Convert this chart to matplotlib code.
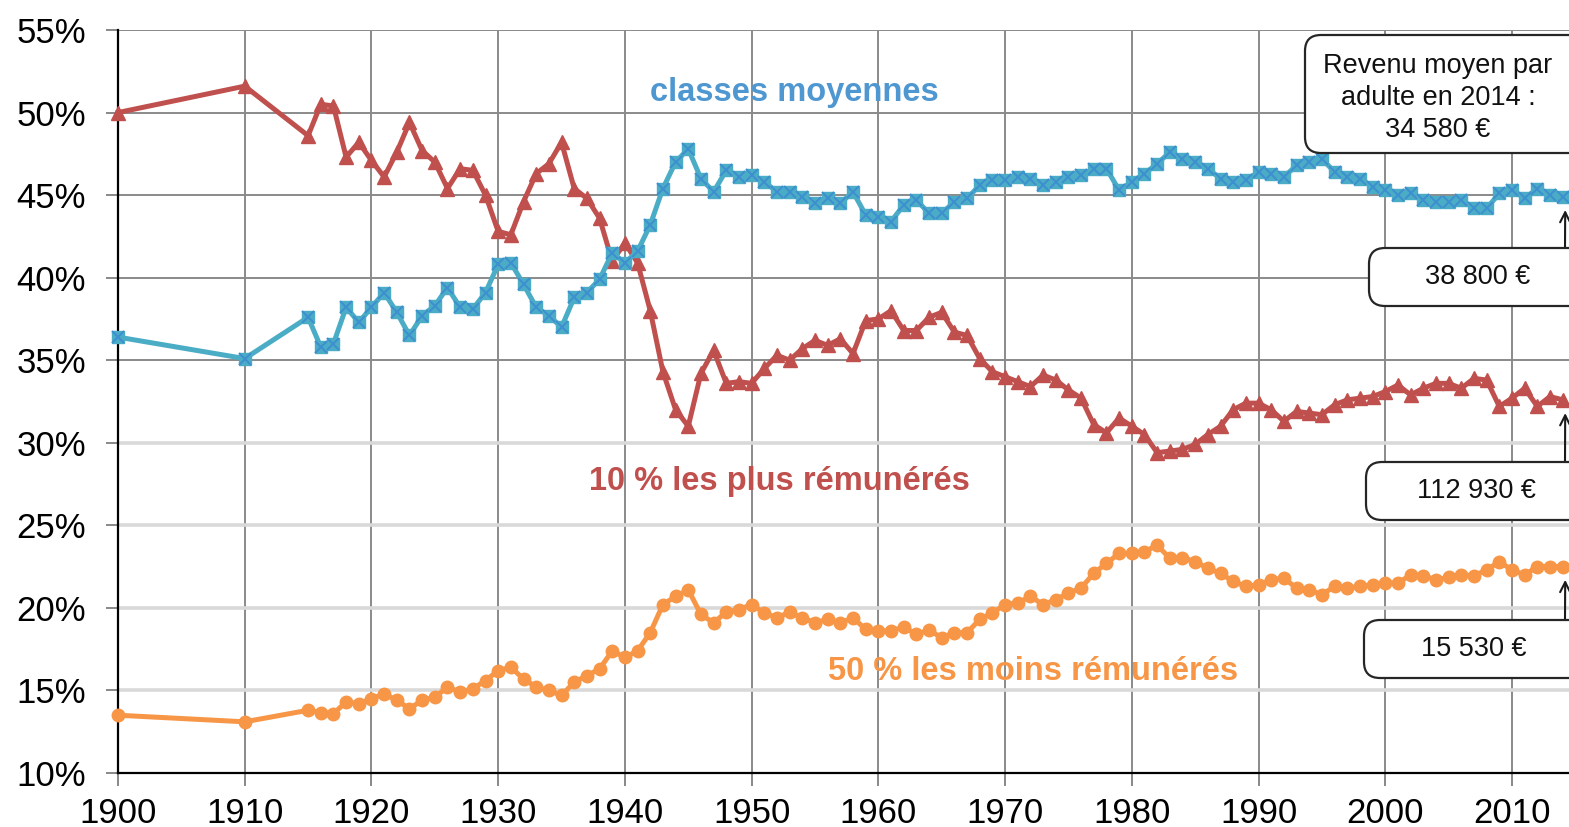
import matplotlib
matplotlib.use("Agg")
import matplotlib.pyplot as plt
from matplotlib.patches import FancyBboxPatch

plt.rcParams["font.family"] = ["Liberation Sans", "DejaVu Sans"]

W, H = 1569, 827

years = [1900, 1910] + list(range(1915, 2015))

# part du revenu (%) — 10 % les plus rémunérés
top10 = [50.0, 51.6,
         48.6, 50.5, 50.4, 47.3, 48.2,
         47.1, 46.1, 47.6, 49.4, 47.7, 47.0, 45.4, 46.6, 46.5, 45.0,
         42.8, 42.6, 44.6, 46.3, 46.9, 48.2, 45.4, 44.8, 43.6, 41.0,
         42.1, 40.9, 38.0, 34.3, 32.0, 31.0, 34.2, 35.6, 33.6, 33.7,
         33.6, 34.5, 35.3, 35.0, 35.7, 36.2, 35.9, 36.3, 35.4, 37.4,
         37.5, 38.0, 36.8, 36.8, 37.6, 37.9, 36.7, 36.5, 35.1, 34.3,
         34.0, 33.7, 33.4, 34.1, 33.8, 33.2, 32.7, 31.1, 30.6, 31.5,
         31.0, 30.5, 29.4, 29.5, 29.6, 29.9, 30.5, 31.0, 32.0, 32.4,
         32.4, 32.0, 31.3, 31.9, 31.8, 31.7, 32.3, 32.6, 32.7, 32.8,
         33.1, 33.5, 32.9, 33.3, 33.6, 33.6, 33.3, 33.9, 33.8, 32.2,
         32.7, 33.3, 32.2, 32.8, 32.6]

# classes moyennes (40 % du milieu)
middle40 = [36.4, 35.1,
            37.6, 35.8, 36.0, 38.2, 37.3,
            38.2, 39.1, 37.9, 36.5, 37.7, 38.3, 39.4, 38.2, 38.1, 39.1,
            40.8, 40.9, 39.6, 38.2, 37.7, 37.0, 38.8, 39.1, 39.9, 41.5,
            40.9, 41.6, 43.2, 45.4, 47.0, 47.8, 46.0, 45.2, 46.5, 46.1,
            46.2, 45.8, 45.2, 45.2, 44.9, 44.5, 44.8, 44.5, 45.2, 43.8,
            43.7, 43.4, 44.4, 44.7, 43.9, 43.9, 44.6, 44.8, 45.6, 45.9,
            45.9, 46.1, 46.0, 45.6, 45.8, 46.1, 46.2, 46.6, 46.6, 45.3,
            45.8, 46.3, 46.9, 47.6, 47.2, 47.0, 46.6, 46.0, 45.8, 45.9,
            46.4, 46.3, 46.1, 46.8, 47.0, 47.2, 46.4, 46.1, 46.0, 45.5,
            45.3, 45.0, 45.1, 44.7, 44.6, 44.6, 44.7, 44.2, 44.2, 45.1,
            45.3, 44.8, 45.4, 45.0, 44.9]

# 50 % les moins rémunérés
bottom50 = [13.5, 13.1,
            13.8, 13.65, 13.6, 14.3, 14.2,
            14.5, 14.8, 14.4, 13.9, 14.4, 14.6, 15.2, 14.9, 15.1, 15.6,
            16.2, 16.4, 15.7, 15.2, 15.0, 14.7, 15.5, 15.9, 16.3, 17.4,
            17.0, 17.4, 18.5, 20.2, 20.7, 21.1, 19.6, 19.1, 19.75, 19.9,
            20.2, 19.7, 19.4, 19.75, 19.4, 19.1, 19.3, 19.1, 19.4, 18.7,
            18.6, 18.6, 18.85, 18.4, 18.65, 18.2, 18.5, 18.5, 19.3, 19.7,
            20.2, 20.3, 20.7, 20.2, 20.5, 20.9, 21.2, 22.1, 22.7, 23.3,
            23.3, 23.4, 23.8, 23.0, 23.05, 22.8, 22.4, 22.1, 21.6, 21.3,
            21.4, 21.7, 21.8, 21.2, 21.1, 20.8, 21.3, 21.2, 21.3, 21.4,
            21.5, 21.5, 22.0, 21.95, 21.7, 21.85, 22.0, 21.95, 22.3, 22.8,
            22.3, 22.0, 22.5, 22.5, 22.5]

box_labels = ["38 800 €", "112 930 €", "15 530 €"]
box_series = [middle40, top10, bottom50]

RED = "#c0504d"
BLUE = "#4bacc6"
BLUE_DARK = "#3d8fd0"
ORANGE = "#f79646"

fig = plt.figure(figsize=(W / 100, H / 100), dpi=100)
ax = fig.add_axes([118 / W, 54 / H, 1451 / W, 743 / H])

ax.set_xlim(1900, 2014.5)
ax.set_ylim(10, 55)

# grille : verticales foncées, horizontales plus claires en bas
for x in range(1910, 2020, 10):
    ax.axvline(x, color="#8a8a8a", lw=1.4, zorder=1)
for y in range(15, 60, 5):
    if y >= 35:
        ax.axhline(y, color="#8a8a8a", lw=1.4, zorder=1)
    else:
        ax.axhline(y, color="#d9d9d9", lw=2.6, zorder=1)

ax.plot(years, top10, color=RED, lw=3.6, marker="^", ms=10, zorder=3, clip_on=False)
ax.plot(years, middle40, color=BLUE, lw=3.6, marker="s", ms=9, zorder=3, clip_on=False)
ax.plot(years, middle40, ls="none", marker="x", ms=8, mew=1.4, color=BLUE_DARK,
        zorder=4, clip_on=False)
ax.plot(years, bottom50, color=ORANGE, lw=3.6, marker="o", ms=9, zorder=3, clip_on=False)

ax.set_xticks(range(1900, 2020, 10))
ax.set_yticks(range(10, 60, 5))
ax.set_yticklabels([f"{v}%" for v in range(10, 60, 5)])
ax.tick_params(axis="both", labelsize=25, colors="#7f7f7f", labelcolor="black",
               length=9, width=1.3, direction="out")
ax.tick_params(axis="x", pad=8)
ax.tick_params(axis="y", pad=14)

for side in ["top", "right"]:
    ax.spines[side].set_visible(False)
for side in ["left", "bottom"]:
    ax.spines[side].set_color("black")
    ax.spines[side].set_linewidth(1.6)
    ax.spines[side].set_zorder(2)

ax.text(1953.4, 51.2, "classes moyennes", color="#4f97d1", fontsize=23.5,
        fontweight="bold", ha="center", va="center")
ax.text(1952.2, 27.65, "10 % les plus rémunérés", color=RED, fontsize=23.5,
        fontweight="bold", ha="center", va="center")
ax.text(1972.2, 16.15, "50 % les moins rémunérés", color=ORANGE, fontsize=23.5,
        fontweight="bold", ha="center", va="center")


def add_box(x0, y0, x1, y1, text, tx, ty, size=19.5):
    # positions en pixels image (origine en haut à gauche)
    patch = FancyBboxPatch((x0 / W, 1 - y1 / H), (x1 - x0) / W, (y1 - y0) / H,
                           boxstyle=f"round,pad=0,rounding_size={16 / W}",
                           mutation_aspect=W / H, transform=fig.transFigure,
                           facecolor="white", edgecolor="#262626", lw=1.6, zorder=5)
    fig.add_artist(patch)
    fig.text(tx / W, 1 - ty / H, text, ha="center", va="center", fontsize=size,
             color="#111111", linespacing=1.3, zorder=6)


add_box(1305, 35, 1600, 153, "Revenu moyen par\nadulte en 2014 :\n34 580 €", 1438, 98, size=19.5)

box_tops = [248, 462, 620]
box_lefts = [1369, 1366, 1364]
text_x = [1478, 1476, 1474]
for label, series, top, left, tx in zip(box_labels, box_series, box_tops, box_lefts, text_x):
    add_box(left, top, 1600, top + 58, label, tx, top + 29)
    ax.annotate("", xy=(2014.2, series[-1] - 0.8), xycoords="data",
                xytext=(1565, H - top), textcoords="figure pixels",
                arrowprops=dict(arrowstyle="->", color="#1a1a1a", lw=1.5,
                                mutation_scale=18, shrinkA=0, shrinkB=0),
                zorder=6)

fig.savefig("out.png", dpi=100)
